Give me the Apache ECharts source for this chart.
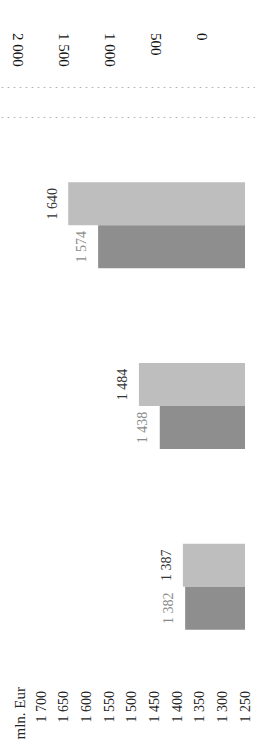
<!DOCTYPE html>
<html>
<head>
<meta charset="utf-8">
<script src="https://cdn.jsdelivr.net/npm/echarts@6/dist/echarts.min.js"></script>
<style>
html,body{margin:0;padding:0;background:#fff;}
#c{width:255px;height:746px;}
</style>
</head>
<body>
<div id="c"></div>
<script>
// ---- data ----
const categories = ['Group 1', 'Group 2', 'Group 3'];
const seriesLight = [1640, 1484, 1387];
const seriesDark = [1574, 1438, 1382];
const leftAxisRange = [1250, 1700, 50];   // min, max, step of the mln. Eur axis
const rightAxisRange = [0, 2000, 500];    // min, max, step of the second scale
const unitLabel = 'mln. Eur';

function fmt(v) {
  return String(v).replace(/\B(?=(\d{3})+(?!\d))/g, ' ');
}

const chart = echarts.init(document.getElementById('c'), null, {renderer: 'svg'});

const dottedAxis = function (pos) {
  return {
    gridIndex: 1, type: 'value', position: pos,
    axisLine: {show: true, onZero: false, lineStyle: {color: '#b4b4b4', width: 1, type: [1, 5]}},
    axisTick: {show: false}, axisLabel: {show: false}, splitLine: {show: false}
  };
};

const option = {
  animation: false,
  backgroundColor: '#fff',
  textStyle: {fontFamily: 'Liberation Serif'},
  grid: [
    {left: 41, right: 10, top: 135, height: 542, outerBoundsMode: 'none', containLabel: false},
    {left: -10, right: -10, top: 87, height: 30, outerBoundsMode: 'none', containLabel: false},
    {left: 18, right: 53, top: 87, height: 30, outerBoundsMode: 'none', containLabel: false}
  ],
  xAxis: [
    {
      gridIndex: 0, type: 'value', position: 'bottom', inverse: true,
      min: leftAxisRange[0], max: leftAxisRange[1], interval: leftAxisRange[2],
      axisLine: {show: false, onZero: false}, axisTick: {show: false}, splitLine: {show: false},
      axisLabel: {rotate: 90, margin: 14, fontSize: 14, color: '#222', fontFamily: 'Liberation Serif', formatter: fmt}
    },
    dottedAxis('top'),
    dottedAxis('bottom'),
    {
      gridIndex: 2, type: 'value', position: 'top', inverse: true,
      min: rightAxisRange[0], max: rightAxisRange[1], interval: rightAxisRange[2],
      axisLine: {show: false, onZero: false}, axisTick: {show: false}, splitLine: {show: false},
      axisLabel: {rotate: 90, align: 'left', margin: 54, fontSize: 15, color: '#111', fontFamily: 'Liberation Serif', formatter: fmt}
    }
  ],
  yAxis: [
    {gridIndex: 0, type: 'category', data: categories, inverse: true, show: false},
    {gridIndex: 1, type: 'value', show: false},
    {gridIndex: 2, type: 'value', show: false}
  ],
  graphic: [{
    type: 'text', x: 20, y: 687, rotation: Math.PI / 2,
    style: {
      text: unitLabel, font: '15px "Liberation Serif"', fill: '#222',
      textAlign: 'right', textVerticalAlign: 'middle', align: 'right', verticalAlign: 'middle'
    }
  }],
  series: [
    {
      type: 'bar', name: 'Light', xAxisIndex: 0, yAxisIndex: 0,
      data: seriesLight, barWidth: 43, barGap: '0%',
      itemStyle: {color: '#bebebe'},
      label: {
        show: true, position: 'left', distance: 16, rotate: 90,
        align: 'center', verticalAlign: 'middle',
        fontSize: 14, color: '#333', fontFamily: 'Liberation Serif',
        formatter: function (p) { return fmt(p.value); }
      }
    },
    {
      type: 'bar', name: 'Dark', xAxisIndex: 0, yAxisIndex: 0,
      data: seriesDark, barWidth: 43, barGap: '0%',
      itemStyle: {color: '#8e8e8e'},
      label: {
        show: true, position: 'left', distance: 17, rotate: 90,
        align: 'center', verticalAlign: 'middle',
        fontSize: 14, color: '#8a8a8a', fontFamily: 'Liberation Serif',
        formatter: function (p) { return fmt(p.value); }
      }
    }
  ]
};
chart.setOption(option);
</script>
</body>
</html>
